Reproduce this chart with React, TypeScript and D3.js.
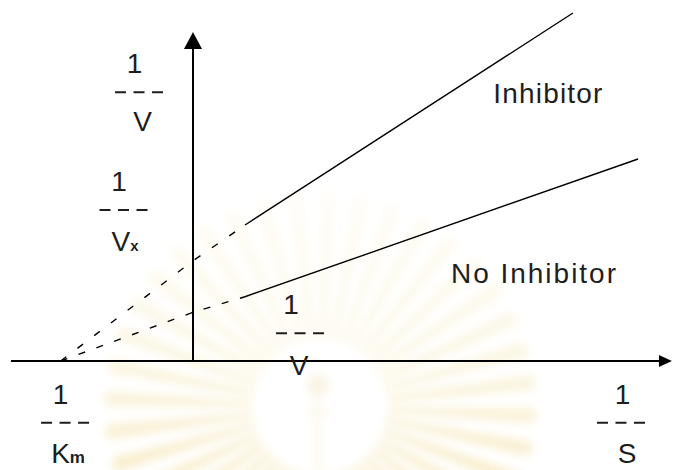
import React from "react";
import * as d3 from "d3";

const W = 676;
const H = 470;

// Series (x = 1/[S], y = 1/v, in units where -1/Km = -1 and 1/Vmax = 1)
const seriesNames = ["Inhibitor", "No Inhibitor"];
const inhibitorDashed: [number, number][] = [[-1, 0], [0, 2.057], [0.393, 2.793]];
const inhibitorSolid: [number, number][] = [[0.393, 2.793], [2.872, 7.146]];
const noInhibitorDashed: [number, number][] = [[-1, 0], [0, 1.0], [0.393, 1.32]];
const noInhibitorSolid: [number, number][] = [[0.393, 1.32], [3.364, 4.148]];

// Axis extents (data units)
const xAxisExtent = [-1.376, 3.62];
const yAxisExtent = [0, 6.756];

// Fraction labels
const fracNumerators = ["1", "1", "1", "1", "1"];
const fracDenominators = ["V", "V", "V", "K", "S"];
const fracSubscripts = ["", "x", "", "m", ""];
const fracAnchors: [number, number][] = [
  [-0.408, 5.517],
  [-0.525, 3.101],
  [0.809, 0.569],
  [-0.967, -1.267],
  [3.235, -1.267],
];
const fracNumDx = [-4.5, -4.5, -9, -4.5, 1.5];
const fracDenDx = [3.5, 1.5, -1, 3, 6];
const fracDenDy = [39, 41.5, 41.5, 40.5, 40.5];

// Series label anchors (data units)
const seriesLabelAnchors: [number, number][] = [
  [2.270, 5.304],
  [1.950, 1.595],
];
const seriesLabelLengths = [109, 165];

const x = d3.scaleLinear().domain([-1, 0]).range([60.7, 193]);
const y = d3.scaleLinear().domain([0, 1]).range([361, 312.3]);

const line = d3
  .line<[number, number]>()
  .x((d) => x(d[0]))
  .y((d) => y(d[1]));

const FONT = "'Liberation Sans', Arial, sans-serif";
const TEXT = "#1e1e1e";

function Watermark() {
  const cx = 320;
  const cy = 407;
  const n = 40;
  const r0 = 68;
  const r1 = 212;
  const rays = d3.range(n).map((i) => {
    const a = (i / n) * Math.PI * 2 + 0.04;
    const ca = Math.cos(a), sa = Math.sin(a);
    const px = -sa, py = ca;
    const w0 = 3, w1 = 8;
    const pts = [
      [cx + ca * r0 + px * w0, cy + sa * r0 + py * w0],
      [cx + ca * r1 + px * w1, cy + sa * r1 + py * w1],
      [cx + ca * (r1 + 6), cy + sa * (r1 + 6)],
      [cx + ca * r1 - px * w1, cy + sa * r1 - py * w1],
      [cx + ca * r0 - px * w0, cy + sa * r0 - py * w0],
    ];
    return pts.map((p) => p.join(",")).join(" ");
  });
  return (
    <g filter="url(#wmblur)">
      {rays.map((p, i) => (
        <polygon key={i} points={p} fill="url(#wmgrad)" />
      ))}
      <circle cx={318} cy={385} r={11} fill="#f9f4e4" />
      <rect x={315} y={398} width={6} height={72} fill="#fbf7ea" />
      <rect x={306} y={410} width={24} height={4} fill="#fbf7ea" />
    </g>
  );
}

function Fraction({ i }: { i: number }) {
  const cx = x(fracAnchors[i][0]);
  const cy = y(fracAnchors[i][1]);
  return (
    <g fill={TEXT} fontFamily={FONT} fontSize={28}>
      <text x={cx + fracNumDx[i]} y={cy - 19} textAnchor="middle">
        {fracNumerators[i]}
      </text>
      <line
        x1={cx - 24}
        x2={cx + 24}
        y1={cy}
        y2={cy}
        stroke={TEXT}
        strokeWidth={2}
        strokeDasharray="11 7.5"
      />
      <text x={cx + fracDenDx[i]} y={cy + fracDenDy[i]} textAnchor="middle">
        {fracDenominators[i]}
        {fracSubscripts[i] ? (
          <tspan
            fontSize={fracSubscripts[i] === "m" ? 17 : 15}
            fontWeight="bold"
          >
            {fracSubscripts[i]}
          </tspan>
        ) : null}
      </text>
    </g>
  );
}

export default function App() {
  const x0 = x(0);
  const y0 = y(0);
  const yTop = y(yAxisExtent[1]);
  const xLeft = x(xAxisExtent[0]);
  const xRight = x(xAxisExtent[1]);
  return (
    <svg
      width={W}
      height={H}
      viewBox={`0 0 ${W} ${H}`}
      style={{ position: "fixed", left: 0, top: 0, display: "block", background: "#fff" }}
    >
      <defs>
        <filter id="wmblur" x="-20%" y="-20%" width="140%" height="140%">
          <feGaussianBlur stdDeviation="4" />
        </filter>
        <linearGradient id="wmgrad" gradientUnits="userSpaceOnUse" x1="0" y1="200" x2="0" y2="470">
          <stop offset="0" stopColor="#fefdf7" />
          <stop offset="0.5" stopColor="#fcf8e8" />
          <stop offset="1" stopColor="#f9efd0" />
        </linearGradient>
      </defs>
      <rect width={W} height={H} fill="#fff" />
      <Watermark />

      {/* axes */}
      <line x1={xLeft} x2={xRight - 12} y1={y0} y2={y0} stroke="#000" strokeWidth={2} />
      <polygon
        points={`${xRight},${y0} ${xRight - 13},${y0 - 6} ${xRight - 13},${y0 + 6}`}
        fill="#000"
      />
      <line x1={x0} x2={x0} y1={y0} y2={yTop + 14} stroke="#000" strokeWidth={2} />
      <polygon
        points={`${x0},${yTop} ${x0 - 9},${yTop + 17} ${x0 + 9},${yTop + 17}`}
        fill="#000"
      />

      {/* series */}
      <g fill="none" stroke="#000" strokeWidth={1.4}>
        <path d={line(inhibitorDashed) || ""} strokeDasharray="7 14" />
        <path d={line(inhibitorSolid) || ""} />
        <path d={line(noInhibitorDashed) || ""} strokeDasharray="7 12" />
        <path d={line(noInhibitorSolid) || ""} />
      </g>

      {/* series labels */}
      {seriesNames.map((s, i) => (
        <text
          key={s}
          x={x(seriesLabelAnchors[i][0])}
          y={y(seriesLabelAnchors[i][1])}
          fontFamily={FONT}
          fontSize={28}
          fill={TEXT}
          textLength={seriesLabelLengths[i]}
          lengthAdjust="spacing"
        >
          {s}
        </text>
      ))}

      {fracNumerators.map((_, i) => (
        <Fraction key={i} i={i} />
      ))}
    </svg>
  );
}
